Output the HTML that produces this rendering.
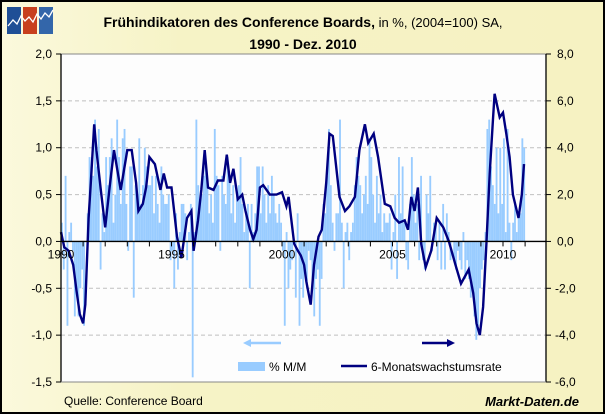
<!DOCTYPE html>
<html><head><meta charset="utf-8"><style>
body{margin:0;}
#wrap{position:relative;width:605px;height:414px;overflow:hidden;}
svg{display:block;font-family:"Liberation Sans",Arial,sans-serif;}
</style></head><body>
<div id="wrap">
<svg id="chart" width="605" height="414" viewBox="0 0 605 414">
  <defs>
    <linearGradient id="bg" x1="0" x2="1" y1="0" y2="0">
      <stop offset="0" stop-color="#fbf9dc"/><stop offset="0.3" stop-color="#f6f3c6"/><stop offset="1" stop-color="#f6f2c2"/>
    </linearGradient>
  </defs>
  <rect x="1" y="1" width="603" height="412" fill="url(#bg)" stroke="#000" stroke-width="2"/>
  <g>
    <rect x="7" y="7" width="14" height="27" fill="#1f4f96"/>
    <rect x="23" y="7" width="14" height="27" fill="#c8401e"/>
    <rect x="39" y="7" width="14" height="27" fill="#3366aa"/>
    <polyline points="8,26 13,20 17,24 21,16 25,21 29,17 33,22 37,14 41,19 45,13 49,17 53,10" fill="none" stroke="#fff" stroke-width="1.3"/>
  </g>
  <text x="303" y="27" text-anchor="middle" font-size="14"><tspan font-weight="bold">Frühindikatoren des Conference Boards,</tspan><tspan font-size="13"> in %, (2004=100) SA,</tspan></text>
  <text x="303" y="49" text-anchor="middle" font-size="14" font-weight="bold">1990 - Dez. 2010</text>
  <rect x="61" y="54" width="485" height="328" fill="#fdfdfd"/>
  <g id="grid"></g>
  <g id="bars"></g>
  <g id="line"></g>
  <g id="axes"></g>
  <g>
    <line x1="281" y1="343" x2="248" y2="343" stroke="#99ccff" stroke-width="2.5"/>
    <polygon points="243,343 251,339 251,347" fill="#99ccff"/>
    <line x1="422" y1="343" x2="447" y2="343" stroke="#000080" stroke-width="2.5"/>
    <polygon points="455,343 447,339 447,347" fill="#000080"/>
    <rect x="238" y="362" width="27" height="9" fill="#99ccff"/>
    <text x="269" y="371" font-size="12">% M/M</text>
    <line x1="341" y1="366" x2="367" y2="366" stroke="#000080" stroke-width="2.5"/>
    <text x="371" y="371" font-size="12">6-Monatswachstumsrate</text>
  </g>
  <text x="64" y="405" font-size="12">Quelle: Conference Board</text>
  <text x="579" y="406" text-anchor="end" font-size="13" font-weight="bold" font-style="italic">Markt-Daten.de</text>
</svg>
</div>
<script>
// Monthly % M/M values, Jan 1990 – Dec 2010 (left axis)
const barValues = [
 0.2,-0.3,0.7,-0.9,0.1,0.2,-0.1,-0.8,-0.5,-0.8,-0.5,-0.3,
 -0.9,0.0,0.3,0.9,0.7,0.7,1.3,0.8,1.2,-0.3,0.3,0.1,
 0.9,0.6,0.9,1.1,0.2,0.5,1.3,0.9,0.4,1.1,1.2,0.4,
 -0.1,0.8,0.8,-0.6,0.6,0.5,1.1,0.4,0.6,1.0,0.8,0.6,
 0.6,0.7,0.3,0.7,0.4,0.2,0.8,0.5,0.4,0.4,0.5,-0.2,
 -0.1,-0.5,0.3,-0.3,0.1,0.4,0.4,0.3,-0.2,0.1,0.4,-1.45,
 0.1,1.3,0.6,0.4,0.5,0.7,0.8,0.6,0.3,0.5,0.2,1.2,
 0.7,0.6,-0.1,0.7,0.5,0.4,0.9,0.7,0.3,0.6,0.2,0.5,
 0.6,0.9,0.4,0.1,0.3,0.4,-0.5,0.4,0.1,0.3,0.8,0.8,
 0.3,0.8,0.5,0.2,0.6,0.3,0.7,0.5,0.3,0.2,0.4,0.2,
 -0.1,-0.9,0.1,-0.5,-0.3,-0.2,0.0,-0.6,0.3,-0.9,-0.4,-0.6,
 -0.3,-0.5,-0.1,-0.2,-0.5,-0.8,-0.4,-0.3,-0.9,-0.4,0.4,0.3,
 0.7,1.2,0.6,0.2,-0.1,0.3,0.3,1.3,0.2,-0.5,0.1,0.2,
 -0.2,0.1,0.2,0.6,0.9,0.7,0.6,0.3,0.5,0.7,0.4,1.1,
 0.9,0.5,0.2,0.7,0.3,0.5,0.1,0.3,0.2,0.2,0.3,-0.3,
 0.1,0.5,-0.4,0.9,0.3,0.8,0.2,-0.2,-0.3,0.4,0.9,0.5,
 0.2,0.4,-0.2,0.7,-0.2,-0.3,0.5,0.3,0.7,-0.1,0.2,0.2,
 -0.2,0.2,-0.3,0.4,-0.3,0.3,0.1,-0.2,0.0,-0.2,-0.3,-0.1,
 -0.2,-0.3,0.1,-0.4,-0.2,-0.4,-0.6,-0.5,-0.8,-1.05,-0.9,-0.5,
 -0.3,-0.2,0.1,1.2,1.3,0.8,0.6,0.4,1.0,0.3,1.0,0.4,
 1.1,0.1,1.2,0.2,-0.2,0.2,0.4,0.1,0.3,0.3,1.1,1.0
];
// 6-month growth rate (right axis): dates as decimal years and values
const lineDates = [1990.0,1990.15,1990.35,1990.55,1990.7,1990.85,1991.0,1991.1,1991.25,1991.35,1991.5,1991.6,1991.8,1992.0,1992.2,1992.4,1992.7,1993.0,1993.2,1993.4,1993.5,1993.7,1993.85,1994.0,1994.25,1994.5,1994.65,1994.8,1995.0,1995.25,1995.45,1995.7,1995.9,1996.0,1996.2,1996.35,1996.5,1996.65,1996.9,1997.1,1997.35,1997.5,1997.65,1997.8,1998.0,1998.2,1998.35,1998.55,1998.7,1998.85,1999.0,1999.15,1999.45,1999.75,2000.0,2000.2,2000.3,2000.55,2000.72,2000.85,2001.0,2001.1,2001.2,2001.3,2001.45,2001.65,2001.8,2002.0,2002.15,2002.3,2002.6,2002.85,2003.05,2003.3,2003.5,2003.75,2003.9,2004.15,2004.35,2004.65,2004.9,2005.1,2005.3,2005.55,2005.7,2005.85,2006.0,2006.15,2006.3,2006.5,2006.75,2007.0,2007.3,2007.55,2007.85,2008.1,2008.45,2008.65,2008.8,2008.95,2009.1,2009.25,2009.4,2009.55,2009.62,2009.85,2010.0,2010.15,2010.3,2010.45,2010.7,2010.85,2010.95];
const lineValues = [0.4,-0.25,-0.4,-1.0,-2.1,-3.1,-3.5,-2.7,1.0,2.5,5.0,3.9,2.2,0.6,2.3,3.9,2.2,3.9,3.9,2.5,1.3,1.6,2.3,3.6,3.3,2.2,2.9,2.3,2.3,0.2,-0.7,1.0,1.3,-0.4,0.9,2.2,3.9,2.3,2.2,2.6,2.6,3.7,2.5,3.1,1.8,2.0,1.3,0.5,0.1,0.5,2.3,2.4,2.0,2.0,2.1,1.5,1.9,-0.1,-0.4,-0.6,-1.0,-1.7,-2.2,-2.7,-1.0,0.2,0.5,2.5,4.6,4.5,1.9,1.3,1.5,1.9,3.9,5.0,4.2,4.6,3.6,1.6,1.5,1.0,0.8,0.9,0.5,1.9,1.3,2.3,-0.1,-1.1,-0.4,1.0,0.6,0.0,-1.0,-1.8,-1.2,-2.2,-3.5,-4.0,-2.8,-0.1,2.9,5.3,6.3,5.3,5.5,4.6,3.6,2.0,1.0,2.0,3.3];
const leftTicks = [2.0,1.5,1.0,0.5,0.0,-0.5,-1.0,-1.5];
const rightTicks = [8.0,6.0,4.0,2.0,0.0,-2.0,-4.0,-6.0];
const yearLabels = [1990,1995,2000,2005,2010];

const NS='http://www.w3.org/2000/svg';
const X0=61, X1=546, YT=54, YB=382;
const startYear=1990, pxPerYear=22.1;
const xOf = t => X0 + (t-startYear)*pxPerYear;
const yL = v => YT + (2.0 - v)/3.5*(YB-YT);
const yR = v => YT + (8.0 - v)/14*(YB-YT);
function mk(tag, attrs, parent){const e=document.createElementNS(NS,tag);for(const k in attrs)e.setAttribute(k,attrs[k]);parent.appendChild(e);return e;}

const grid=document.getElementById('grid');
leftTicks.forEach((v,i)=>{
  if(v===0||v===-1.5) return;
  const g=mk('line',{x1:X0,x2:X1,y1:yL(v),y2:yL(v),stroke:(v===2.0?'#888':'#c0c0c0'),'stroke-width':1,'stroke-dasharray':(v===2.0?'':'4,3')},grid);
  
  
});

const bars=document.getElementById('bars');
barValues.forEach((v,i)=>{
  const t=startYear+i/12;
  const x=xOf(t), y0=yL(0), y=yL(v);
  const r=mk('rect',{x:x.toFixed(2),y:Math.min(y,y0).toFixed(2),width:1.85,height:Math.abs(y-y0).toFixed(2),fill:'#99ccff'},bars);
  
  
});

const lineG=document.getElementById('line');
const pts=lineDates.map((t,i)=>xOf(t).toFixed(1)+','+yR(lineValues[i]).toFixed(1)).join(' ');
const pl=mk('polyline',{points:pts,fill:'none',stroke:'#000080','stroke-width':2.4,'stroke-linejoin':'miter'},lineG);



const axes=document.getElementById('axes');
let a=mk('line',{x1:X0,x2:X0,y1:YT,y2:YB,stroke:'#000','stroke-width':1.3},axes);


a=mk('line',{x1:X1,x2:X1,y1:YT,y2:YB,stroke:'#000','stroke-width':1.3},axes);


a=mk('line',{x1:X0,x2:X1,y1:YB,y2:YB,stroke:'#888','stroke-width':1},axes);


a=mk('line',{x1:X0,x2:X1,y1:yL(0),y2:yL(0),stroke:'#000','stroke-width':1.3},axes);


for(let yr=1990; yr<=2011; yr++){
  const t=mk('line',{x1:xOf(yr),x2:xOf(yr),y1:yL(0),y2:yL(0)+5,stroke:'#000','stroke-width':1},axes);
  
  
}
yearLabels.forEach(yr=>{
  const t=mk('text',{x:xOf(yr),y:yL(0)+17,'text-anchor':'middle','font-size':12},axes);
  t.textContent=String(yr);
  
  
});
leftTicks.forEach(v=>{
  const tk=mk('line',{x1:X0-5,x2:X0,y1:yL(v),y2:yL(v),stroke:'#000'},axes);
  
  
  const t=mk('text',{x:X0-9,y:yL(v)+4,'text-anchor':'end','font-size':12},axes);
  t.textContent=v.toFixed(1).replace('.',',');
  
  
});
rightTicks.forEach(v=>{
  const tk=mk('line',{x1:X1,x2:X1+5,y1:yR(v),y2:yR(v),stroke:'#000'},axes);
  
  
  const t=mk('text',{x:X1+(v<0?9:11),y:yR(v)+4,'text-anchor':'start','font-size':12},axes);
  t.textContent=v.toFixed(1).replace('.',',');
  
  
});
</script>
</body></html>
